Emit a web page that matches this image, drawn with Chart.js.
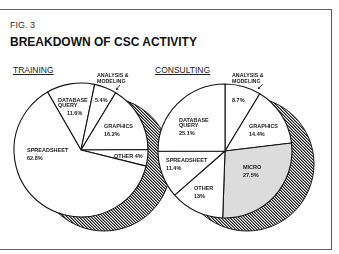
<!DOCTYPE html>
<html>
<head>
<meta charset="utf-8">
<script src="https://cdn.jsdelivr.net/npm/chart.js@4.4.0/dist/chart.umd.min.js"></script>
<style>
  body { margin: 0; width: 339px; height: 254px; background: #fff; position: relative; overflow: hidden;
         font-family: "Liberation Sans", Arial, sans-serif; color: #1a1a1a; }
  .frame { position: absolute; left: -3px; top: 9px; width: 334px; height: 239px;
           border-top: 1.5px solid #666; border-right: 1.5px solid #555; border-bottom: 1.5px solid #666; }
  .txt { position: absolute; white-space: nowrap; line-height: 1; }
  .fig { left: 10px; top: 21px; font-size: 9px; color: #333; }
  .title { left: 10px; top: 36px; font-size: 12px; font-weight: bold; color: #111; }
  .sub { top: 66px; font-size: 8.5px; text-decoration: underline; color: #222; }
  .box { position: absolute; }
</style>
</head>
<body>
<div class="frame"></div>
<div class="txt fig">FIG. 3</div>
<div class="txt title">BREAKDOWN OF CSC ACTIVITY</div>
<div class="txt sub" style="left:13px">TRAINING</div>
<div class="txt sub" style="left:155px">CONSULTING</div>

<div class="box" style="left:0px; top:66px;"><canvas id="trainChart" width="180" height="180"></canvas></div>
<div class="box" style="left:150px; top:66px;"><canvas id="consultChart" width="185" height="182"></canvas></div>

<script>
'use strict';

// ***** DATA *****
let trainingLabels = ['DATABASE\nQUERY', 'ANALYSIS &\nMODELING', 'GRAPHICS', 'OTHER', 'SPREADSHEET'];
let trainingValues = [11.6, 5.4, 16.2, 4, 62.8];

let consultingLabels = ['ANALYSIS &\nMODELING', 'GRAPHICS', 'MICRO', 'OTHER', 'SPREADSHEET', 'DATABASE\nQUERY'];
let consultingValues = [8.7, 14.4, 27.5, 13, 11.4, 25.1];

// label placement, relative to pie centre
let trainingPos = [
  {dx: -23, dy: -50, vx: -14},
  {dx: 14, dy: -50, mode: 'outside', nx: 16, ny: -74, arrow: [39, -65, 35, -60]},
  {dx: 23, dy: -24},
  {dx: 33, dy: 6, mode: 'inline'},
  {dx: -54, dy: 0}
];
let consultingPos = [
  {dx: 7, dy: -51, mode: 'outside', nx: 7, ny: -75, arrow: [38, -67, 33, -62]},
  {dx: 24, dy: -25},
  {dx: 18, dy: 16},
  {dx: -31, dy: 37},
  {dx: -59, dy: 9},
  {dx: -46, dy: -31}
];

let FONT = '"Liberation Sans", Arial, sans-serif';

// ***** PLUGINS *****
let pieShadow = {
  id: 'pieShadow',
  beforeDatasetsDraw(chart, args, opts){
    let arc = chart.getDatasetMeta(0).data[0];
    let ctx = chart.ctx;
    ctx.save();
    ctx.beginPath();
    ctx.arc(arc.x + opts.dx, arc.y + opts.dy, arc.outerRadius, 0, Math.PI * 2);
    ctx.fillStyle = ctx.createPattern(opts.tile, 'repeat');
    ctx.fill();
    ctx.lineWidth = 1;
    ctx.strokeStyle = '#1a1a1a';
    ctx.stroke();
    ctx.restore();
  }
};

let sliceLabels = {
  id: 'sliceLabels',
  afterDatasetsDraw(chart, args, opts){
    let ctx = chart.ctx;
    let meta = chart.getDatasetMeta(0);
    let names = chart.data.labels;
    let values = chart.data.datasets[0].data;
    ctx.save();
    ctx.fillStyle = '#1a1a1a';
    ctx.strokeStyle = '#1a1a1a';
    ctx.textBaseline = 'middle';
    ctx.textAlign = 'left';
    meta.data.forEach((arc, i) => {
      let p = opts.pos[i];
      let cx = arc.x, cy = arc.y;
      let pct = values[i] + '%';
      let lines = names[i].split('\n');
      ctx.font = 'bold 5.5px ' + FONT;
      if(p.mode === 'inline'){
        ctx.fillText(lines.join(' ') + ' ' + pct, cx + p.dx, cy + p.dy);
      } else if(p.mode === 'outside'){
        ctx.fillText(pct, cx + p.dx, cy + p.dy);
        ctx.font = 'bold 5.3px ' + FONT;
        lines.forEach((ln, k) => ctx.fillText(ln, cx + p.nx, cy + p.ny + k * 5.2));
        let [x1, y1, x2, y2] = p.arrow;
        ctx.lineWidth = 0.8;
        ctx.beginPath();
        ctx.moveTo(cx + x1, cy + y1);
        ctx.lineTo(cx + x2, cy + y2);
        ctx.stroke();
        ctx.beginPath();
        ctx.moveTo(cx + x2, cy + y2);
        ctx.lineTo(cx + x2 + 2.6, cy + y2 - 0.6);
        ctx.lineTo(cx + x2 + 0.4, cy + y2 - 2.6);
        ctx.closePath();
        ctx.fill();
      } else {
        lines.forEach((ln, k) => ctx.fillText(ln, cx + p.dx, cy + p.dy + k * 5.7));
        let vx = p.vx !== undefined ? p.vx : p.dx;
        ctx.fillText(pct, cx + vx, cy + p.dy + (lines.length - 1) * 5.7 + 8);
      }
    });
    ctx.restore();
  }
};

// ***** HELPERS *****
function makeTile(){
  let c = document.createElement('canvas');
  c.width = 3; c.height = 3;
  let g = c.getContext('2d');
  g.fillStyle = '#fff';
  g.fillRect(0, 0, 3, 3);
  for(let i = 0; i < 3; i++){
    g.fillStyle = '#1e1e1e';
    g.fillRect(i, i, 1, 1);
    g.fillStyle = '#8a8a8a';
    g.fillRect((i + 1) % 3, i, 1, 1);
  }
  return c;
}

function renderPie(id, labels, values, colors, rotation, padding, shadow, pos){
  let chartObj = {
    type: 'pie',
    data: {
      labels: labels,
      datasets: [{
        data: values,
        backgroundColor: colors,
        borderColor: '#151515',
        borderWidth: 1.1,
        radius: 67
      }]
    },
    options: {
      responsive: false,
      animation: false,
      rotation: rotation,
      layout: { padding: padding },
      plugins: {
        legend: { display: false },
        tooltip: { enabled: false },
        pieShadow: shadow,
        sliceLabels: { pos: pos }
      }
    },
    plugins: [pieShadow, sliceLabels]
  };
  return new Chart(document.getElementById(id), chartObj);
}

// ***** EXECUTABLE CODE *****
let tile = makeTile();

renderPie('trainChart', trainingLabels, trainingValues,
  trainingValues.map(() => '#fff'), -30,
  {left: 14, top: 17, right: 32, bottom: 29},
  {dx: 23, dy: 14, tile: tile}, trainingPos);

renderPie('consultChart', consultingLabels, consultingValues,
  consultingLabels.map(l => l === 'MICRO' ? '#dcdcdc' : '#fff'), 0,
  {left: 8, top: 18, right: 43, bottom: 30},
  {dx: 22, dy: 13, tile: tile}, consultingPos);
</script>
</body>
</html>
